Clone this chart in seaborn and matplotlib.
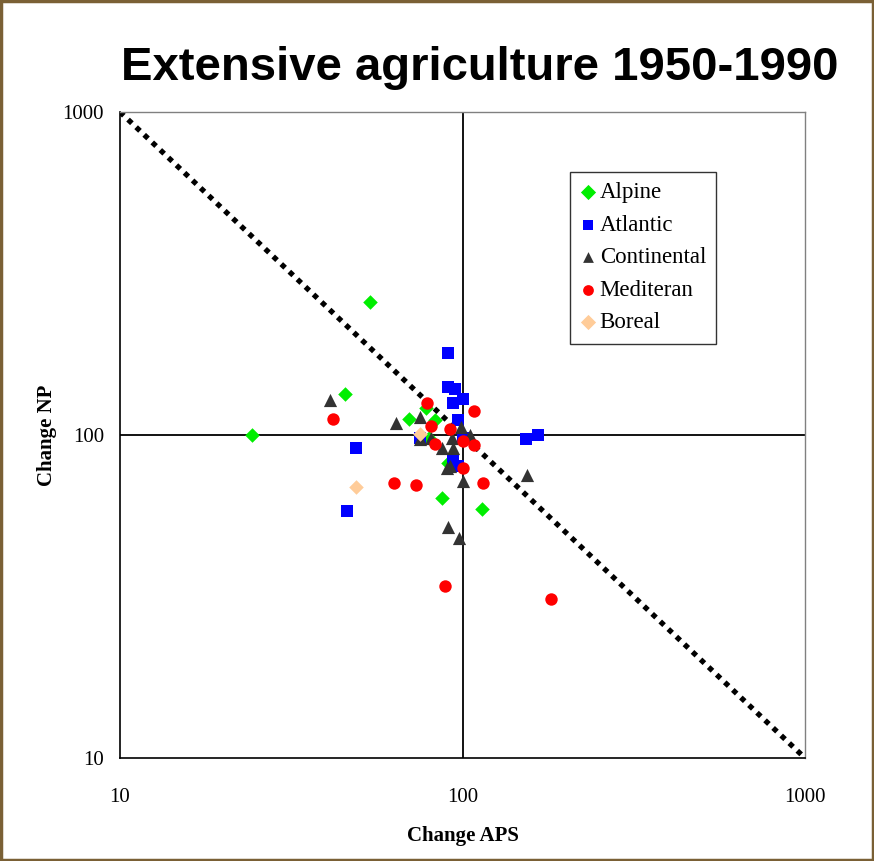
import numpy as np
import pandas as pd
import matplotlib
matplotlib.use("Agg")
import matplotlib.pyplot as plt
import seaborn as sns
from matplotlib.patches import Rectangle
from matplotlib.ticker import FixedLocator, NullLocator, FixedFormatter

# ---- data ----
alpine_aps = [24.3, 53.7, 45.4, 78, 70, 83, 80, 91, 87, 114]
alpine_np = [100, 258, 134, 121, 112, 111, 98, 82, 64, 59]

atlantic_aps = [91, 91, 95, 94, 100, 97, 49, 46, 153, 166, 94, 75, 100, 97]
atlantic_np = [180, 141, 139, 126, 129, 111, 91, 58, 97, 100, 84, 98, 98, 80]

continental_aps = [41, 64, 75, 75, 81, 87, 94, 93, 99, 105, 92, 90, 100, 154, 91, 98]
continental_np = [128, 109, 114, 97, 98, 91, 91, 98, 106, 100, 80, 79, 72, 75, 52, 48]

mediterranean_aps = [42, 79, 81, 83, 92, 108, 100, 108, 100, 63, 73, 115, 89, 181]
mediterranean_np = [112, 126, 107, 94, 104, 119, 96, 93, 79, 71, 70, 71, 34, 31]

boreal_aps = [49, 75]
boreal_np = [69, 101]

regions = ["Alpine", "Atlantic", "Continental", "Mediteran", "Boreal"]
region_colors = ["#00EE00", "#0000FF", "#333333", "#FF0000", "#FFCC99"]
region_markers = ["D", "s", "^", "o", "D"]
region_sizes = [55, 70, 90, 80, 55]

diag_x = [10, 1000]
diag_y = [1000, 10]
ticks = [10, 100, 1000]
tick_labels = ["10", "100", "1000"]

title = "Extensive agriculture 1950-1990"
xlabel = "Change APS"
ylabel = "Change NP"

series = [
    (alpine_aps, alpine_np),
    (atlantic_aps, atlantic_np),
    (continental_aps, continental_np),
    (mediterranean_aps, mediterranean_np),
    (boreal_aps, boreal_np),
]
rows = []
for name, (xs, ys) in zip(regions, series):
    for x, y in zip(xs, ys):
        rows.append({"APS": x, "NP": y, "Region": name})
df = pd.DataFrame(rows)

# ---- figure ----
sns.set_style("white")
plt.rcParams["font.family"] = ["Liberation Serif", "DejaVu Serif"]
plt.rcParams["text.color"] = "black"
plt.rcParams["axes.labelcolor"] = "black"
plt.rcParams["xtick.color"] = "black"
plt.rcParams["ytick.color"] = "black"

W, H = 874, 861
fig = plt.figure(figsize=(W / 100, H / 100), dpi=100)
ax = fig.add_axes([120 / W, 1 - 758 / H, 685 / W, 646 / H])

ax.set_xscale("log")
ax.set_yscale("log")
ax.set_xlim(10, 1000)
ax.set_ylim(10, 1000)

# reference cross lines at 100
ax.axvline(100, color="black", lw=1.3, zorder=1)
ax.axhline(100, color="black", lw=1.3, zorder=1)

# diagonal dotted line
ax.plot(diag_x, diag_y, color="black", lw=3.8, linestyle=(0, (1, 1.1)),
        zorder=2, solid_capstyle="butt", dash_capstyle="butt")

for name, col, mk, sz in zip(regions, region_colors, region_markers, region_sizes):
    sub = df[df["Region"] == name]
    sns.scatterplot(data=sub, x="APS", y="NP", ax=ax, color=col, marker=mk,
                    s=sz, linewidth=0, label=name, zorder=3)

ax.xaxis.set_major_locator(FixedLocator(ticks))
ax.yaxis.set_major_locator(FixedLocator(ticks))
ax.xaxis.set_major_formatter(FixedFormatter(tick_labels))
ax.yaxis.set_major_formatter(FixedFormatter(tick_labels))
ax.xaxis.set_minor_locator(NullLocator())
ax.yaxis.set_minor_locator(NullLocator())
ax.tick_params(axis="both", which="major", direction="inout", length=7, width=1,
               color="black", labelcolor="black", labelsize=15)
ax.tick_params(axis="x", pad=18)
ax.tick_params(axis="y", pad=8)

for s in ["top", "right"]:
    ax.spines[s].set_color("#808080")
    ax.spines[s].set_linewidth(1)
for s in ["left", "bottom"]:
    ax.spines[s].set_color("black")
    ax.spines[s].set_linewidth(1.2)

ax.set_xlabel(xlabel, fontsize=15, fontweight="bold", labelpad=14, color="black")
ax.set_ylabel(ylabel, fontsize=15, fontweight="bold", labelpad=4, color="black")

leg = ax.legend(loc="upper left", bbox_to_anchor=((570 - 120) / 685, (758 - 172) / 646),
                frameon=True, fancybox=False, fontsize=16.5, labelspacing=0.5,
                handletextpad=0.15, handlelength=0.7, borderpad=0.45, borderaxespad=0)
leg.get_frame().set_edgecolor("black")
leg.get_frame().set_linewidth(1)
for h in leg.legend_handles:
    try:
        h.set_sizes([60])
    except Exception:
        pass
for t in leg.get_texts():
    t.set_color("black")

fig.text(480 / W, 1 - 68 / H, title, ha="center", va="center", fontsize=34,
         fontweight="bold", color="black", family=["Liberation Sans", "DejaVu Sans"])

# outer frame
fig.patches.append(Rectangle((0.001, 0.001), 0.998, 0.998, transform=fig.transFigure,
                             fill=False, edgecolor="#7a6035", lw=2.5))

fig.savefig("out.png", dpi=100)
